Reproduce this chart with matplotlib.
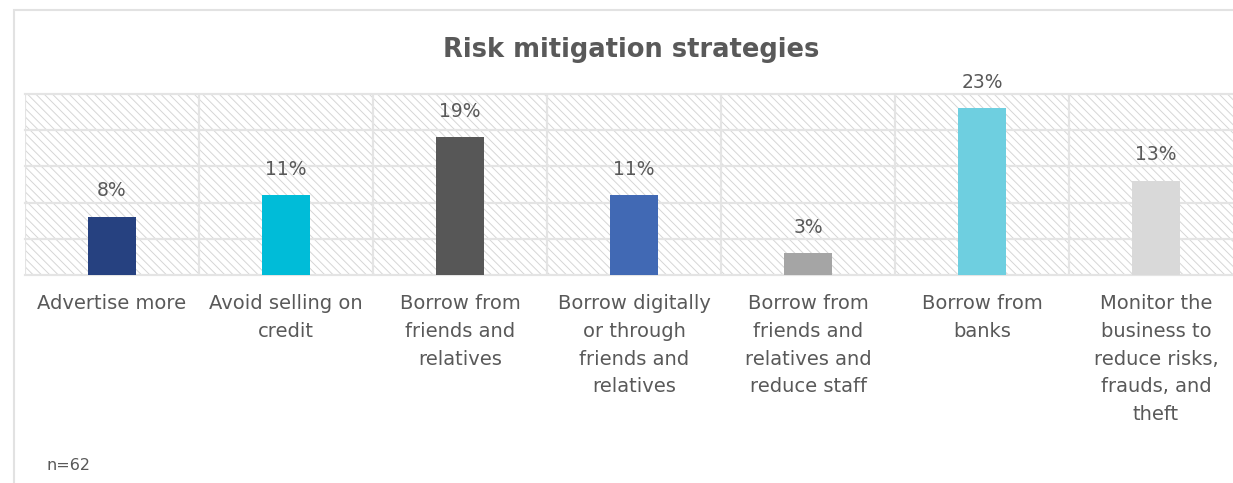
import matplotlib
matplotlib.use("Agg")
import matplotlib.pyplot as plt
from matplotlib.patches import Rectangle

# Share of respondents per strategy (%)
categories = [
    "Advertise more",
    "Avoid selling on\ncredit",
    "Borrow from\nfriends and\nrelatives",
    "Borrow digitally\nor through\nfriends and\nrelatives",
    "Borrow from\nfriends and\nrelatives and\nreduce staff",
    "Borrow from\nbanks",
    "Monitor the\nbusiness to\nreduce risks,\nfrauds, and\ntheft",
]
values = [8, 11, 19, 11, 3, 23, 13]
bar_colors = ["#264180", "#00BCD8", "#575757", "#4169B4",
              "#A5A5A5", "#6ECFE0", "#D9D9D9"]

TEXT = "#595959"
GRID = "#E4E4E4"

plt.rcParams["font.family"] = ["DejaVu Sans"]
plt.rcParams["hatch.linewidth"] = 0.7

fig = plt.figure(figsize=(12.33, 4.83), dpi=100, facecolor="white")

# outer chart frame (top and left edges visible)
fig.patches.append(Rectangle((14 / 1233, -0.1), 1.2, 1.1 - 10 / 483,
                             transform=fig.transFigure, facecolor="none",
                             edgecolor="#E2E2E2", linewidth=1.5, zorder=0))

ax = fig.add_axes([25 / 1233, 1 - 275 / 483, 1218 / 1233, 181 / 483])
ax.set_facecolor("white")

# diagonal hatched plot area
ax.add_patch(Rectangle((0, 0), 1, 1, transform=ax.transAxes,
                       facecolor="white", edgecolor="#D6D6D6",
                       linewidth=0, hatch="\\\\\\\\", zorder=0))

x = range(len(categories))
ax.bar(x, values, width=0.275, color=bar_colors, zorder=3)

for xi, v in zip(x, values):
    ax.annotate(f"{v}%", (xi, v), xytext=(0, 12), textcoords="offset points",
                ha="center", va="bottom", fontsize=13.5, color=TEXT,
                annotation_clip=False)

ax.set_xlim(-0.5, len(categories) - 0.5)
ax.set_ylim(0, 25)

# horizontal gridlines and column separators
for y in range(0, 26, 5):
    ax.axhline(y, color=GRID, linewidth=1.6, zorder=1, clip_on=False)
for i in range(len(categories) + 1):
    ax.axvline(i - 0.5, color=GRID, linewidth=1.6, zorder=1)

ax.set_yticks([])
ax.set_xticks(list(x))
ax.set_xticklabels(categories, fontsize=14, color=TEXT, linespacing=1.57,
                   va="top", ha="center")
ax.tick_params(axis="x", length=0, pad=14)
for s in ax.spines.values():
    s.set_visible(False)

fig.text(631 / 1233, 1 - 50 / 483, "Risk mitigation strategies",
         ha="center", va="center", fontsize=18.5, fontweight="bold", color=TEXT)
fig.text(47 / 1233, 1 - 466 / 483, "n=62", ha="left", va="center",
         fontsize=11.5, color=TEXT)

fig.savefig("out.png", dpi=100, facecolor="white")
